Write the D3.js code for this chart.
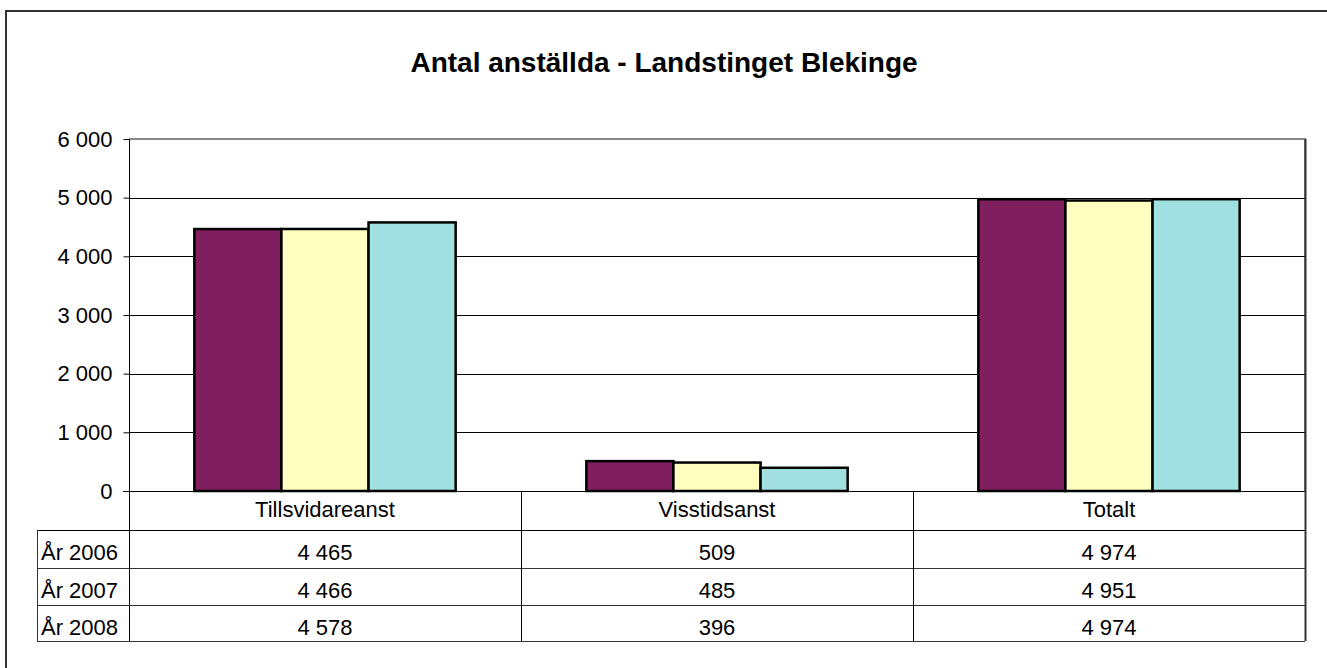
<!DOCTYPE html>
<html>
<head>
<meta charset="utf-8">
<script src="https://cdn.jsdelivr.net/npm/d3@7"></script>
<style>
  body { margin: 0; background: #fff; overflow: hidden; }
  text { font-family: "Liberation Sans", Arial, sans-serif; }
</style>
</head>
<body>
<div id="chart"></div>
<script>
// data
var categories = ["Tillsvidareanst", "Visstidsanst", "Totalt"];
var years = ["År 2006", "År 2007", "År 2008"];
var values2006 = [4465, 509, 4974];
var values2007 = [4466, 485, 4951];
var values2008 = [4578, 396, 4974];
var yTicks = [0, 1000, 2000, 3000, 4000, 5000, 6000];
var colors = ["#7f1f5f", "#ffffc0", "#a0e0e0"];

var series = [values2006, values2007, values2008];

var W = 1327, H = 668;
var plotLeft = 129, plotRight = 1305, plotTop = 139, plotBottom = 491;
var rowLines = [491, 530, 568, 605, 641];
var tableLeft = 37;
var fmt = d => d3.format(",")(d).replace(/,/g, " ");

var svg = d3.select("#chart").append("svg")
    .attr("width", W)
    .attr("height", H);

// outer chart frame
svg.append("rect")
    .attr("x", 6).attr("y", 11)
    .attr("width", W).attr("height", H)
    .attr("fill", "#fff")
    .attr("stroke", "#333")
    .attr("stroke-width", 2);

svg.append("text")
    .attr("x", 664).attr("y", 72)
    .attr("text-anchor", "middle")
    .attr("font-size", 28)
    .attr("font-weight", "bold")
    .text("Antal anställda - Landstinget Blekinge");

var x = d3.scaleBand()
    .domain(categories)
    .range([plotLeft, plotRight])
    .paddingInner(0);

var y = d3.scaleLinear()
    .domain([0, 6000])
    .range([plotBottom, plotTop]);

// plot area border (top & right, gray)
svg.append("path")
    .attr("d", "M" + plotLeft + "," + plotTop + "H" + plotRight + "V" + plotBottom)
    .attr("fill", "none")
    .attr("stroke", "#888")
    .attr("stroke-width", 2);

// gridlines
svg.append("g").selectAll("line")
    .data(yTicks.filter(d => d > 0 && d < 6000))
    .enter().append("line")
    .attr("x1", plotLeft).attr("x2", plotRight)
    .attr("y1", d => Math.round(y(d)) + 0.5)
    .attr("y2", d => Math.round(y(d)) + 0.5)
    .attr("stroke", "#000")
    .attr("stroke-width", 1);

// y axis
var yAxis = svg.append("g")
    .attr("transform", "translate(" + (plotLeft + 0.5) + ",0)")
    .call(d3.axisLeft(y)
        .tickValues(yTicks)
        .tickSize(6)
        .tickPadding(11)
        .tickFormat(fmt));
yAxis.select(".domain").remove();
yAxis.selectAll("line").attr("stroke", "#000");
yAxis.selectAll("text")
    .attr("font-size", 22)
    .attr("fill", "#000")
    .style("font-family", "'Liberation Sans', Arial, sans-serif");

// bars
var groupW = x.bandwidth();
var barW = groupW / 4.5;
var xs = d3.scaleBand()
    .domain([0, 1, 2])
    .range([barW * 0.75, barW * 0.75 + barW * 3]);

var g = svg.append("g");
series.forEach(function(vals, si) {
    g.selectAll(".s" + si)
        .data(vals)
        .enter().append("rect")
        .attr("x", (d, i) => x(categories[i]) + xs(si))
        .attr("y", d => y(d))
        .attr("width", xs.bandwidth())
        .attr("height", d => plotBottom - y(d))
        .attr("fill", colors[si])
        .attr("stroke", "#000")
        .attr("stroke-width", 2.5);
});

// axis line at zero & left axis line down through table
svg.append("line")
    .attr("x1", plotLeft - 6).attr("x2", plotRight)
    .attr("y1", plotBottom + 0.5).attr("y2", plotBottom + 0.5)
    .attr("stroke", "#000");
svg.append("line")
    .attr("x1", plotLeft + 0.5).attr("x2", plotLeft + 0.5)
    .attr("y1", plotTop).attr("y2", rowLines[4])
    .attr("stroke", "#000");

// data table
var tbl = svg.append("g");
rowLines.slice(1).forEach(function(yy, i) {
    tbl.append("line")
        .attr("x1", tableLeft).attr("x2", plotRight)
        .attr("y1", yy + 0.5).attr("y2", yy + 0.5)
        .attr("stroke", i === 0 ? "#000" : "#333");
});
tbl.append("line")
    .attr("x1", tableLeft + 0.5).attr("x2", tableLeft + 0.5)
    .attr("y1", rowLines[1]).attr("y2", rowLines[4])
    .attr("stroke", "#333");
categories.forEach(function(c, i) {
    var xx = x(c) + groupW;
    tbl.append("line")
        .attr("x1", Math.round(xx) + 0.5).attr("x2", Math.round(xx) + 0.5)
        .attr("y1", i === 2 ? plotTop : plotBottom).attr("y2", rowLines[4])
        .attr("stroke", i === 2 ? "#333" : "#000")
        .attr("stroke-width", i === 2 ? 2 : 1);
});
tbl.selectAll(".cat")
    .data(categories)
    .enter().append("text")
    .attr("x", d => x(d) + groupW / 2)
    .attr("y", rowLines[0] + 26)
    .attr("text-anchor", "middle")
    .attr("font-size", 22)
    .text(d => d);
years.forEach(function(yr, r) {
    var by = rowLines[r + 1] + 30;
    tbl.append("text")
        .attr("x", tableLeft + 4)
        .attr("y", by)
        .attr("font-size", 22)
        .text(yr);
    tbl.selectAll(".v" + r)
        .data(series[r])
        .enter().append("text")
        .attr("x", (d, i) => x(categories[i]) + groupW / 2)
        .attr("y", by)
        .attr("text-anchor", "middle")
        .attr("font-size", 22)
        .text(fmt);
});
</script>
</body>
</html>
